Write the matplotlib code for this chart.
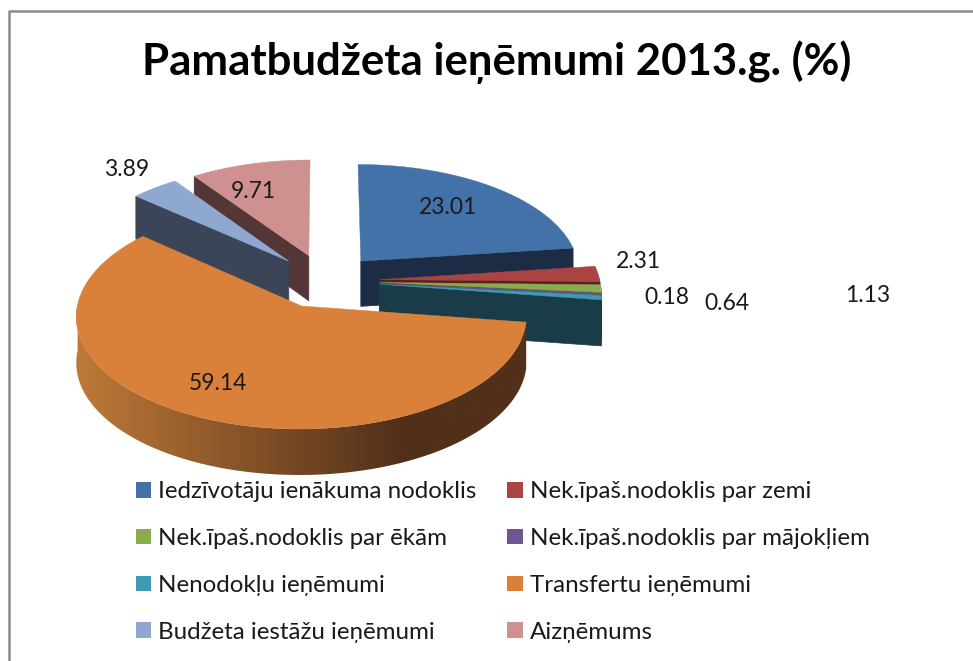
import matplotlib
matplotlib.use("Agg")
import matplotlib.pyplot as plt
import numpy as np

from matplotlib.patches import Patch, Polygon

# Data
title = "Pamatbudžeta ieņēmumi 2013.g. (%)"
categories = [
    "Iedzīvotāju ienākuma nodoklis",
    "Nek.īpaš.nodoklis par zemi",
    "Nek.īpaš.nodoklis par ēkām",
    "Nek.īpaš.nodoklis par mājokļiem",
    "Nenodokļu ieņēmumi",
    "Transfertu ieņēmumi",
    "Budžeta iestāžu ieņēmumi",
    "Aizņēmums",
]
values = [23.01, 2.31, 1.13, 0.18, 0.64, 59.14, 3.89, 9.71]

# Styles
top_colors = ["#4372a8", "#a94442", "#8bab4f", "#705593", "#3f9ab3", "#d9803a", "#8fa8d0", "#cf9090"]
cut_colors = ["#1b2c44", "#5a1f1e", "#4b5e28", "#3b2c50", "#1a3c48", "#6b3d18", "#3a4557", "#533737"]
rim_light = ["#1b2c44", "#5a1f1e", "#4b5e28", "#3b2c50", "#1a3c48", "#bd7838", "#3a4557", "#533737"]
rim_dark = ["#1b2c44", "#5a1f1e", "#4b5e28", "#3b2c50", "#1a3c48", "#52301a", "#3a4557", "#533737"]
label_pos = [(448, 208), (638, 261), (868, 295), (667, 298), (727, 303), (218, 384), (127, 170), (253, 192)]

# Pie geometry in pixels
cx, cy = 325, 281
radius_x, radius_y = 220, 108
explode = 0.25
persp = 0.085
depth = 46

# back to front
idx_order = {7: 1, 6: 2, 0: 3, 1: 4, 2: 5, 3: 6, 4: 7, 5: 8}


def project(x, y):
    f = 1 / (1 - persp * y)
    return cx + radius_x * x * f, cy + radius_y * y * f, depth * np.minimum(f, 1)


def hex_rgb(h):
    return np.array(matplotlib.colors.to_rgb(h))


def draw_slice(ax, idx, start, end):
    mid = np.radians((start + end) / 2)
    ox, oy = explode * np.sin(mid), -explode * np.cos(mid)
    theta = np.radians(np.linspace(start, end, max(int(end - start) * 2, 4)))
    wx = ox + np.sin(theta)
    wy = oy - np.cos(theta)
    px, py, pd = project(wx, wy)
    ax0, ay0, ad0 = project(ox, oy)

    # cut faces, only when turned to the viewer
    if -np.sin(theta[0]) > 0:
        ax.fill([ax0, px[0], px[0], ax0], [ay0, py[0], py[0] + pd[0], ay0 + ad0],
                color=cut_colors[idx], lw=0.5, zorder=idx_order[idx])
    if np.sin(theta[-1]) > 0:
        ax.fill([ax0, px[-1], px[-1], ax0], [ay0, py[-1], py[-1] + pd[-1], ay0 + ad0],
                color=cut_colors[idx], lw=0.5, zorder=idx_order[idx])

    # outer rim, gradient from left to right clipped to the rim shape
    front = np.cos(theta) < 0.02
    if front.sum() > 1:
        rim = np.c_[np.r_[px[front], px[front][::-1]],
                    np.r_[py[front], (py[front] + pd[front])[::-1]]]
        xs = np.arange(0, 974)
        t = np.clip((400 - xs) / 320, 0, 1)[:, None]
        grad = hex_rgb(rim_dark[idx]) + (hex_rgb(rim_light[idx]) - hex_rgb(rim_dark[idx])) * t
        im = ax.imshow(grad[None, :, :], extent=(0, 973, 661, 0), aspect="auto",
                       zorder=idx_order[idx], interpolation="bilinear")
        im.set_clip_path(Polygon(rim, closed=True, transform=ax.transData))

    ax.fill(np.r_[ax0, px], np.r_[ay0, py], color=top_colors[idx], lw=0.3, zorder=idx_order[idx] + 0.5)


fig = plt.figure(figsize=(9.73, 6.61), dpi=100)
ax = fig.add_axes([0, 0, 1, 1])

# Chart frame
ax.plot([9, 9, 973], [661, 11, 11], color="#8c8c8c", lw=1.8, zorder=0)

edges = np.cumsum([0] + values) / sum(values) * 360
for i in range(len(values)):
    draw_slice(ax, i, edges[i], edges[i + 1])

ax.set_xlim(0, 973)
ax.set_ylim(661, 0)
ax.axis("off")

for val, (lx, ly) in zip(values, label_pos):
    ax.text(lx, ly, f"{val:.2f}", family="Lato", fontsize=16.5, color="#1a1a1a",
            ha="center", va="center", zorder=20)

ax.text(497, 62, title, family="Lato", fontweight="bold", fontsize=31.5, color="black",
        ha="center", va="center", zorder=20)

# matplotlib fills legend columns first, so pick rows in that order
order = [0, 2, 4, 6, 1, 3, 5, 7]
handles = [Patch(facecolor=top_colors[i], label=categories[i]) for i in order]
ax.legend(handles=handles, ncol=2, frameon=False, loc="upper left", bbox_to_anchor=(0.1398, 0.272),
          prop={"family": "Lato", "size": 17.4}, handlelength=0.63, handleheight=0.63,
          handletextpad=0.29, labelspacing=1.07, columnspacing=1.27, labelcolor="#1a1a1a",
          borderpad=0, borderaxespad=0)

fig.savefig("out.png", dpi=100)
